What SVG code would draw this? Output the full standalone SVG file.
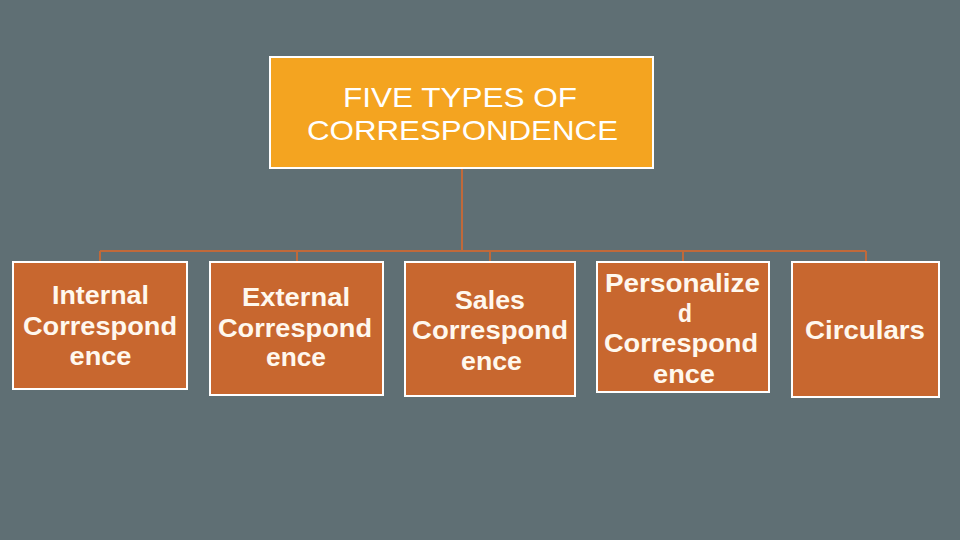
<svg xmlns="http://www.w3.org/2000/svg" width="960" height="540" viewBox="0 0 960 540">
<style>
.bg{fill:#5F6F74}
.top{fill:#F4A420;stroke:#FFFFFF;stroke-width:2}
.box{fill:#C8672F;stroke:#FFFFFF;stroke-width:2}
.conn{stroke:#C0693A;stroke-width:2;fill:none}
.tt{font-family:"Liberation Sans",Arial,sans-serif;font-size:28px;fill:#FFFFFF;text-anchor:middle}
.bt{font-family:"Liberation Sans",Arial,sans-serif;font-size:25px;font-weight:bold;fill:#FFF8EE;text-anchor:middle}
</style>
<rect class="bg" x="0" y="0" width="960" height="540"/>
<g id="connectors">
<path class="conn" d="M462 168 V251"/>
<path class="conn" d="M100 251 H866"/>
<path class="conn" d="M100 251 V262 M297 251 V262 M490 251 V262 M683 251 V262 M866 251 V262"/>
</g>
<g id="root">
<rect class="top" x="270" y="57" width="383" height="111"/>
<text class="tt" x="460" y="107" textLength="234" lengthAdjust="spacingAndGlyphs">FIVE TYPES OF</text>
<text class="tt" x="462.5" y="140" textLength="311" lengthAdjust="spacingAndGlyphs">CORRESPONDENCE</text>
</g>
<g id="internal">
<rect class="box" x="13" y="262" width="174" height="127"/>
<text class="bt" x="100.5" y="304" textLength="97" lengthAdjust="spacingAndGlyphs">Internal</text>
<text class="bt" x="100" y="335" textLength="154" lengthAdjust="spacingAndGlyphs">Correspond</text>
<text class="bt" x="100.5" y="365" textLength="62" lengthAdjust="spacingAndGlyphs">ence</text>
</g>
<g id="external">
<rect class="box" x="210" y="262" width="173" height="133"/>
<text class="bt" x="296" y="306" textLength="108" lengthAdjust="spacingAndGlyphs">External</text>
<text class="bt" x="295" y="337" textLength="154" lengthAdjust="spacingAndGlyphs">Correspond</text>
<text class="bt" x="296" y="366" textLength="60" lengthAdjust="spacingAndGlyphs">ence</text>
</g>
<g id="sales">
<rect class="box" x="405" y="262" width="170" height="134"/>
<text class="bt" x="490" y="309" textLength="70" lengthAdjust="spacingAndGlyphs">Sales</text>
<text class="bt" x="490" y="339" textLength="156" lengthAdjust="spacingAndGlyphs">Correspond</text>
<text class="bt" x="491.5" y="370" textLength="61" lengthAdjust="spacingAndGlyphs">ence</text>
</g>
<g id="personalized">
<rect class="box" x="597" y="262" width="172" height="130"/>
<text class="bt" x="682.5" y="292" textLength="155" lengthAdjust="spacingAndGlyphs">Personalize</text>
<text class="bt" x="685" y="322" textLength="14" lengthAdjust="spacingAndGlyphs">d</text>
<text class="bt" x="681" y="352" textLength="154" lengthAdjust="spacingAndGlyphs">Correspond</text>
<text class="bt" x="684" y="383" textLength="62" lengthAdjust="spacingAndGlyphs">ence</text>
</g>
<g id="circulars">
<rect class="box" x="792" y="262" width="147" height="135"/>
<text class="bt" x="865" y="339" textLength="120" lengthAdjust="spacingAndGlyphs">Circulars</text>
</g>
</svg>
